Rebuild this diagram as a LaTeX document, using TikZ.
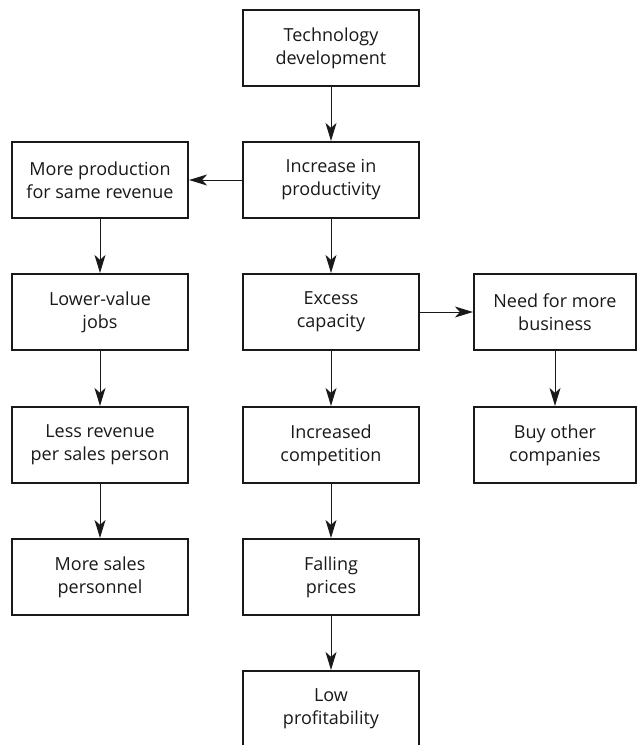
\documentclass[tikz,border=0pt]{standalone}
\usepackage{fontspec}
\setmainfont{Open Sans}
\usetikzlibrary{arrows.meta}
\begin{document}
\begin{tikzpicture}[x=1pt,y=-1pt,
  box/.style={draw=black!90, line width=2.2pt, rectangle, align=center,
    minimum width=176pt, minimum height=76pt, inner sep=2pt,
    font=\fontsize{18}{23}\selectfont, text=black!90},
  widebox/.style={box, minimum width=162pt},
  link/.style={line width=0.9pt, draw=black!90,
    -{Stealth[length=18pt,width=11pt,inset=5pt]}}]
  \useasboundingbox (0,0) rectangle (638,745);
  \fill[white] (0,0) rectangle (638,745);
  \clip (0,0) rectangle (638,745);

  % middle column
  \node[box] (tech) at (331,48)  {Technology\\development};
  \node[box] (prod) at (331,180) {Increase in\\productivity};
  \node[box] (cap)  at (331,312) {Excess\\capacity};
  \node[box] (comp) at (331,445) {Increased\\competition};
  \node[box] (fall) at (331,577) {Falling\\prices};
  \node[box] (low)  at (331,709) {Low\\profitability};

  % left column
  \node[box] (more) at (100,180) {More production\\for same revenue};
  \node[box] (jobs) at (100,312) {Lower-value\\jobs};
  \node[box] (less) at (100,445) {Less revenue\\per sales person};
  \node[box] (pers) at (100,577) {More sales\\personnel};

  % right column
  \node[widebox] (need) at (555,312) {Need for more\\business};
  \node[widebox] (buy)  at (555,445) {Buy other\\companies};

  \draw[link] (tech) -- (prod);
  \draw[link] (prod) -- (more);
  \draw[link] (prod) -- (cap);
  \draw[link] (cap)  -- (comp);
  \draw[link] (comp) -- (fall);
  \draw[link] (fall) -- (low);
  \draw[link] (more) -- (jobs);
  \draw[link] (jobs) -- (less);
  \draw[link] (less) -- (pers);
  \draw[link] (cap)  -- (need);
  \draw[link] (need) -- (buy);
\end{tikzpicture}
\end{document}
